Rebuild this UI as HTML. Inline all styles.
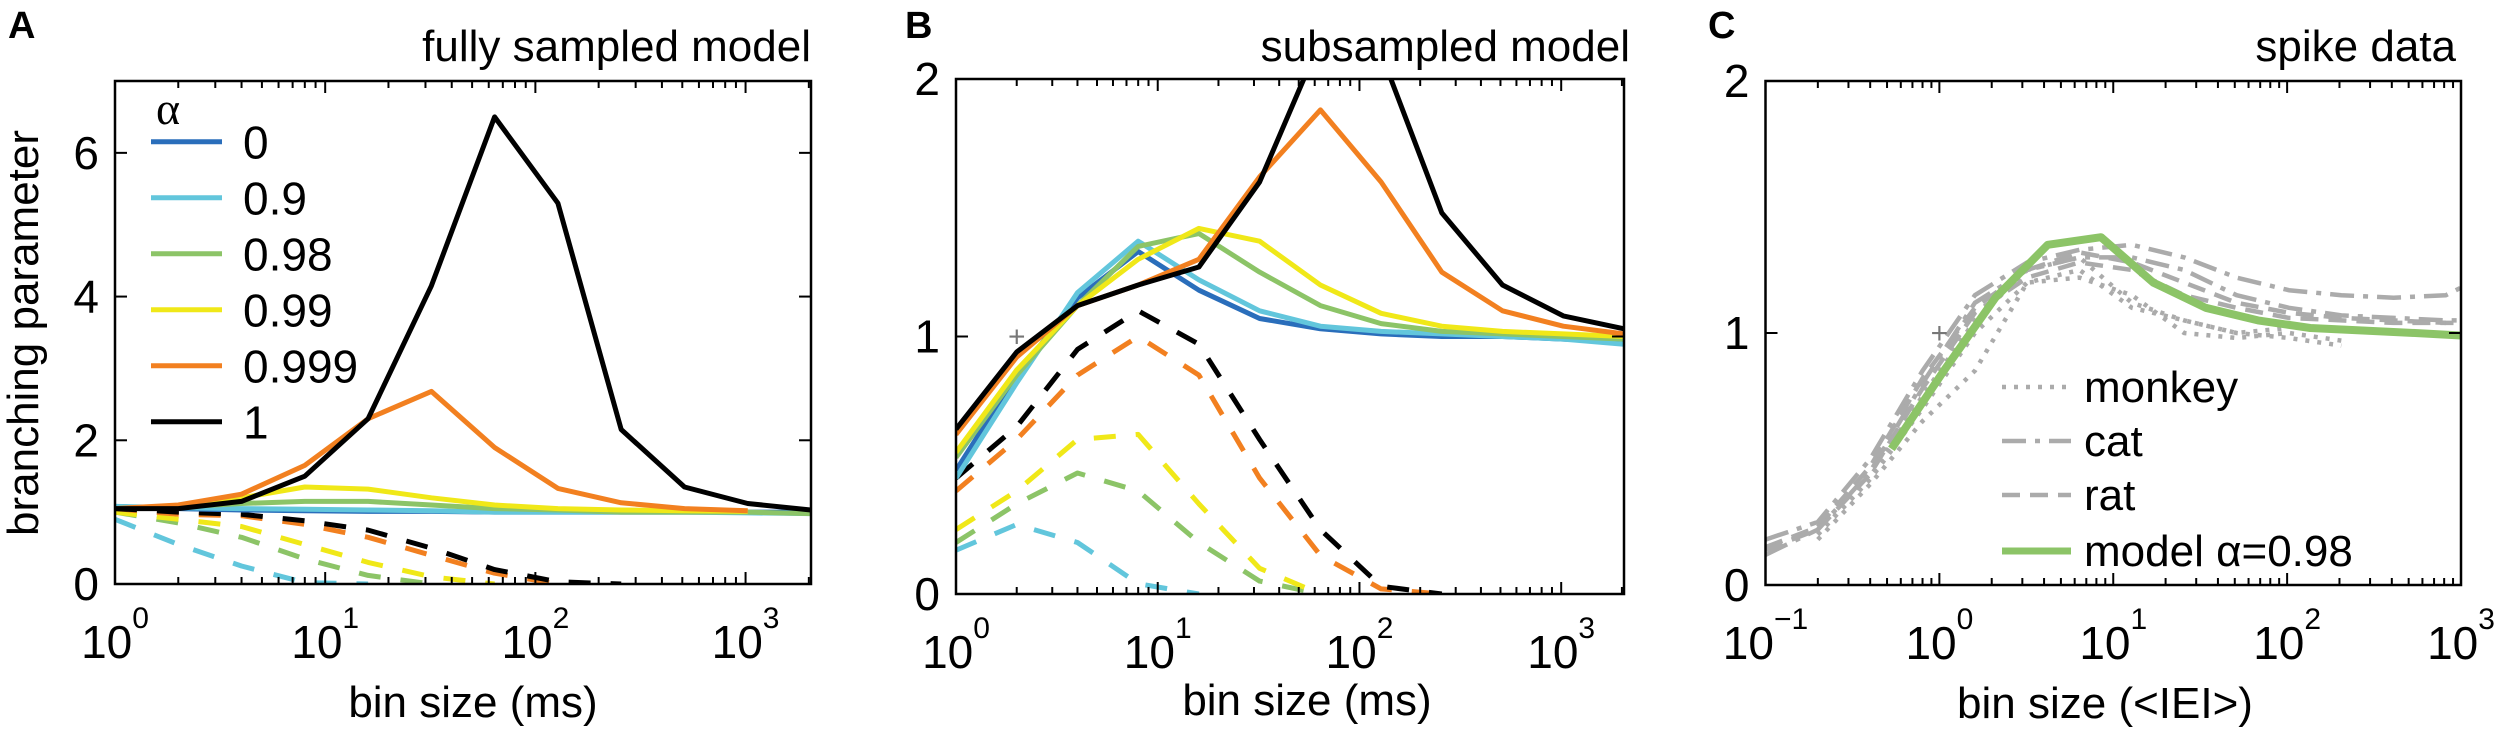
<!DOCTYPE html>
<html><head><meta charset="utf-8"><style>
html,body{margin:0;padding:0;background:#fff;}
svg{display:block;font-family:"Liberation Sans",Arial,sans-serif;}
</style></head><body>
<svg id="fig" width="2500" height="734" viewBox="0 0 2500 734" xmlns="http://www.w3.org/2000/svg"></svg>
<script>
// ---------- Data ----------
const binsMs = [1,2,4,8,16,32,64,128,256,512,1024,2048];
const alphaLabels = ["0","0.9","0.98","0.99","0.999","1"];
const alphaColors = ["#2a6ebb","#62c6dc","#8cc467","#f0e818","#f28020","#000000"];
// Panel A solid (fully sampled)
const aSolid0 = [1.08,1.05,1.03,1.02,1.01,1.01,1.0,1.0,1.0,1.0,1.0,1.0];
const aSolid09 = [1.08,1.06,1.05,1.04,1.03,1.02,1.0,1.0,1.0,1.0,0.99,0.98];
const aSolid098 = [1.05,1.07,1.12,1.15,1.15,1.1,1.05,1.03,1.0,1.0,1.0,0.98];
const aSolid099 = [1.05,1.08,1.2,1.35,1.32,1.2,1.1,1.05,1.03,1.02,1.01];
const aSolid0999 = [1.05,1.1,1.25,1.65,2.3,2.68,1.9,1.33,1.13,1.05,1.02];
const aSolid1 = [1.05,1.05,1.15,1.5,2.3,4.15,6.5,5.3,2.15,1.35,1.12,1.03];
// Panel A dashed
const aDash09 = [0.9,0.55,0.25,0.02,0.0];
const aDash098 = [1.0,0.85,0.65,0.35,0.12,0.0];
const aDash099 = [1.0,0.9,0.8,0.55,0.3,0.1,0.0];
const aDash0999 = [1.05,0.97,0.95,0.83,0.65,0.4,0.15,0.0];
const aDash1 = [1.05,1.0,0.97,0.88,0.75,0.5,0.2,0.03,0.0];
// Panel B solid (subsampled)
const bSolid0 = [0.48,0.85,1.15,1.33,1.18,1.07,1.03,1.01,1.0,1.0,0.99,0.98];
const bSolid09 = [0.45,0.82,1.17,1.37,1.22,1.1,1.04,1.02,1.01,1.0,0.99,0.97];
const bSolid098 = [0.53,0.85,1.12,1.35,1.4,1.25,1.12,1.05,1.02,1.01,1.0,0.99];
const bSolid099 = [0.55,0.87,1.12,1.3,1.42,1.37,1.2,1.09,1.04,1.02,1.01,1.0];
const bSolid0999 = [0.62,0.92,1.12,1.2,1.3,1.62,1.88,1.6,1.25,1.1,1.04,1.01];
const bSolid1 = [0.64,0.94,1.12,1.2,1.27,1.6,2.15,2.1,1.48,1.2,1.08,1.03];
// Panel B dashed
const bDash09 = [0.17,0.27,0.2,0.04,0.0];
const bDash098 = [0.2,0.35,0.47,0.4,0.2,0.05,0.0];
const bDash099 = [0.25,0.4,0.6,0.62,0.35,0.1,0.0];
const bDash0999 = [0.4,0.6,0.85,1.0,0.85,0.45,0.15,0.02,0.0];
const bDash1 = [0.45,0.65,0.95,1.1,0.97,0.6,0.25,0.03,0.0];
// Panel C
const cBins = [0.1,0.2,0.4,0.8,1.6,3.2,6.4,12.8,25.6,51.2,102.4,204.8,409.6,819.2,1000];
const catA = [0.18,0.25,0.5,0.85,1.15,1.28,1.33,1.35,1.3,1.22,1.17,1.15,1.14,1.15,1.18];
const catB = [0.12,0.22,0.45,0.8,1.12,1.25,1.3,1.3,1.25,1.15,1.1,1.07,1.06,1.05,1.05];
const ratA = [0.15,0.23,0.47,0.82,1.1,1.25,1.32,1.28,1.2,1.12,1.08,1.06,1.05,1.04,1.04];
const ratB = [0.14,0.22,0.44,0.78,1.08,1.22,1.28,1.25,1.15,1.1,1.06,1.05,1.04,1.04];
const monkeyBins = [0.2,0.4,0.8,1.6,3.2,6.4,12.8,25.6,51.2,102.4,204.8];
const monkeyA = [0.2,0.42,0.7,1.0,1.2,1.25,1.1,1.05,1.0,0.98,0.95];
const monkeyB = [0.18,0.4,0.65,0.85,1.2,1.22,1.15,1.0,0.98,1.0,0.97];
const monkeyC = [0.2,0.43,0.75,1.05,1.25,1.3,1.12,1.05,1.0,1.02];
const modelBins = [0.53,1.06,2.1,4.2,8.5,17,34,68,136,272,544,1000];
const model098 = [0.54,0.85,1.14,1.35,1.38,1.2,1.1,1.05,1.02,1.01,1.0,0.99];
const cLegendLabels = ["monkey","cat","rat","model \u03b1=0.98"];

// ---------- helpers ----------
const NS = "http://www.w3.org/2000/svg";
const svg = document.getElementById("fig");
function el(tag, attrs, parent){
  const e = document.createElementNS(NS, tag);
  for (const k in attrs) e.setAttribute(k, attrs[k]);
  (parent||svg).appendChild(e);
  return e;
}
function logScale(d0,d1,p0,p1){const a=Math.log10(d0),b=Math.log10(d1);return v=>p0+(Math.log10(v)-a)/(b-a)*(p1-p0);}
function linScale(d0,d1,p0,p1){return v=>p0+(v-d0)/(d1-d0)*(p1-p0);}

function makePanel(id, L,R,T,B, xmin,xmax,ymin,ymax, yTicks, xDecades){
  const p = {x:logScale(xmin,xmax,L,R), y:linScale(ymin,ymax,B,T), L,R,T,B};
  const cp = el("clipPath",{id:"clip"+id});
  el("rect",{x:L,y:T,width:R-L,height:B-T},cp);
  p.g = el("g",{"clip-path":"url(#clip"+id+")"});
  
  
  // axis ticks
  const ax = el("g",{stroke:"#000","stroke-width":2,fill:"none"});
  
  
  for (let d=Math.floor(Math.log10(xmin)); d<=Math.ceil(Math.log10(xmax)); d++){
    for (let m=1;m<10;m++){
      const v=m*Math.pow(10,d); if(v<xmin-1e-9||v>xmax+1e-9) continue;
      const X=p.x(v), len=(m===1)?12:7;
      el("line",{x1:X,y1:B,x2:X,y2:B-len},ax);
      el("line",{x1:X,y1:T,x2:X,y2:T+len},ax);
    }
  }
  yTicks.forEach(t=>{const Y=p.y(t);
    el("line",{x1:L,y1:Y,x2:L+12,y2:Y},ax);el("line",{x1:R,y1:Y,x2:R-12,y2:Y},ax);
    const tx=el("text",{x:L-16,y:Y+16,"text-anchor":"end","font-size":46,fill:"#000"});
    tx.textContent=String(t);
    
    
  });
  el("rect",{x:L,y:T,width:R-L,height:B-T,stroke:"#000","stroke-width":2.5,fill:"none"},ax);
  xDecades.forEach(d=>{
    const X=p.x(Math.pow(10,d));
    const tx=el("text",{x:X,y:p.B+74,"text-anchor":"middle","font-size":46,fill:"#000"});
    
    
    tx.appendChild(document.createTextNode("10"));
    const sp=el("tspan",{dy:-30,"font-size":30},tx);
    sp.textContent = d<0 ? "\u2212"+(-d) : String(d);
  });
  return p;
}
function line(p, xs, ys, color, width, dash, name){
  const pts = ys.map((v,i)=>p.x(xs[i]).toFixed(1)+","+p.y(v).toFixed(1)).join(" ");
  const pl = el("polyline",{points:pts,fill:"none",stroke:color,"stroke-width":width,"stroke-linejoin":"round","stroke-dasharray":dash||"none"},p.g);
  
  
  return pl;
}
function text(x,y,str,size,anchor,name,extra){
  const t=el("text",Object.assign({x:x,y:y,"font-size":size,"text-anchor":anchor||"start",fill:"#000"},extra||{}));
  t.textContent=str;
  
  
  return t;
}

// ---------- Panel A ----------
const pA = makePanel("A",115,811,81,584,1,2048,0,7,[0,2,4,6],[0,1,2,3]);
const aDashed=[null,aDash09,aDash098,aDash099,aDash0999,aDash1];
aDashed.forEach((ys,i)=>{ if(ys) line(pA,binsMs,ys,alphaColors[i],5,"22 20","dashed-alpha-"+alphaLabels[i]); });
[aSolid0,aSolid09,aSolid098,aSolid099,aSolid0999,aSolid1].forEach((ys,i)=>line(pA,binsMs,ys,alphaColors[i],5,null,"solid-alpha-"+alphaLabels[i]));
text(811,61,"fully sampled model",44,"end","panel-a-title");
text(473,717,"bin size (ms)",44,"middle","panel-a-x-axis-title");
text(0,0,"branching parameter",44,"middle","y-axis-title",{transform:"translate(38,333) rotate(-90)"});
text(8,38,"A",38,"start","panel-a-letter",{"font-weight":"bold"});
text(168,124,"\u03b1",46,"middle","legend-alpha-symbol",{"font-family":"Liberation Serif, serif"});
alphaLabels.forEach((lab,i)=>{
  const Y=141.7+56*i;
  const l=el("line",{x1:151,y1:Y,x2:222,y2:Y,stroke:alphaColors[i],"stroke-width":5});
  
  
  text(243,Y+17,lab,46,"start","legend-label-"+lab);
});

// ---------- Panel B ----------
const pB = makePanel("B",956,1624,79,594,1,2048,0,2,[0,1,2],[0,1,2,3]);
const bDashed=[null,bDash09,bDash098,bDash099,bDash0999,bDash1];
bDashed.forEach((ys,i)=>{ if(ys) line(pB,binsMs,ys,alphaColors[i],5,"22 20","dashed-alpha-"+alphaLabels[i]); });
[bSolid0,bSolid09,bSolid098,bSolid099,bSolid0999,bSolid1].forEach((ys,i)=>line(pB,binsMs,ys,alphaColors[i],5,null,"solid-alpha-"+alphaLabels[i]));
text(1630,61,"subsampled model",44,"end","panel-b-title");
text(1307,715,"bin size (ms)",44,"middle","panel-b-x-axis-title");
text(905,38,"B",38,"start","panel-b-letter",{"font-weight":"bold"});
text(pB.x(2),pB.y(1)+10,"+",30,"middle","reference-cross",{fill:"#777"});

// ---------- Panel C ----------
const pC = makePanel("C",1765.5,2461,81,585,0.1,1000,0,2,[0,1,2],[-1,0,1,2,3]);
const grey="#ababab";
line(pC,cBins,catA,grey,4.5,"24 9 5 9","cat-series-1");
line(pC,cBins,catB,grey,4.5,"24 9 5 9","cat-series-2");
line(pC,cBins,ratA,grey,4.5,"18 10","rat-series-1");
line(pC,cBins,ratB,grey,4.5,"18 10","rat-series-2");
line(pC,monkeyBins,monkeyA,grey,4.5,"4 8","monkey-series-1");
line(pC,monkeyBins,monkeyB,grey,4.5,"4 8","monkey-series-2");
line(pC,monkeyBins,monkeyC,grey,4.5,"4 8","monkey-series-3");
line(pC,modelBins,model098,"#8cc467",8,null,"model-alpha-0.98");
text(2456,61,"spike data",44,"end","panel-c-title");
text(2105,718,"bin size (<IEI>)",44,"middle","panel-c-x-axis-title");
text(1708,38,"C",38,"start","panel-c-letter",{"font-weight":"bold"});
text(pC.x(1),pC.y(1)+10,"+",30,"middle","reference-cross",{fill:"#777"});
const cLegendY=[387,441,495,551];
const cLegendDash=["4 8","24 9 5 9","18 10",null];
cLegendLabels.forEach((lab,i)=>{
  const l=el("line",{x1:2002,y1:cLegendY[i],x2:2071,y2:cLegendY[i],stroke:i===3?"#8cc467":grey,"stroke-width":i===3?7:4.5,"stroke-dasharray":cLegendDash[i]||"none"});
  
  
  text(2084,cLegendY[i]+15,lab,44,"start","legend-label-"+lab.split(" ")[0]);
});
</script>
</body></html>
